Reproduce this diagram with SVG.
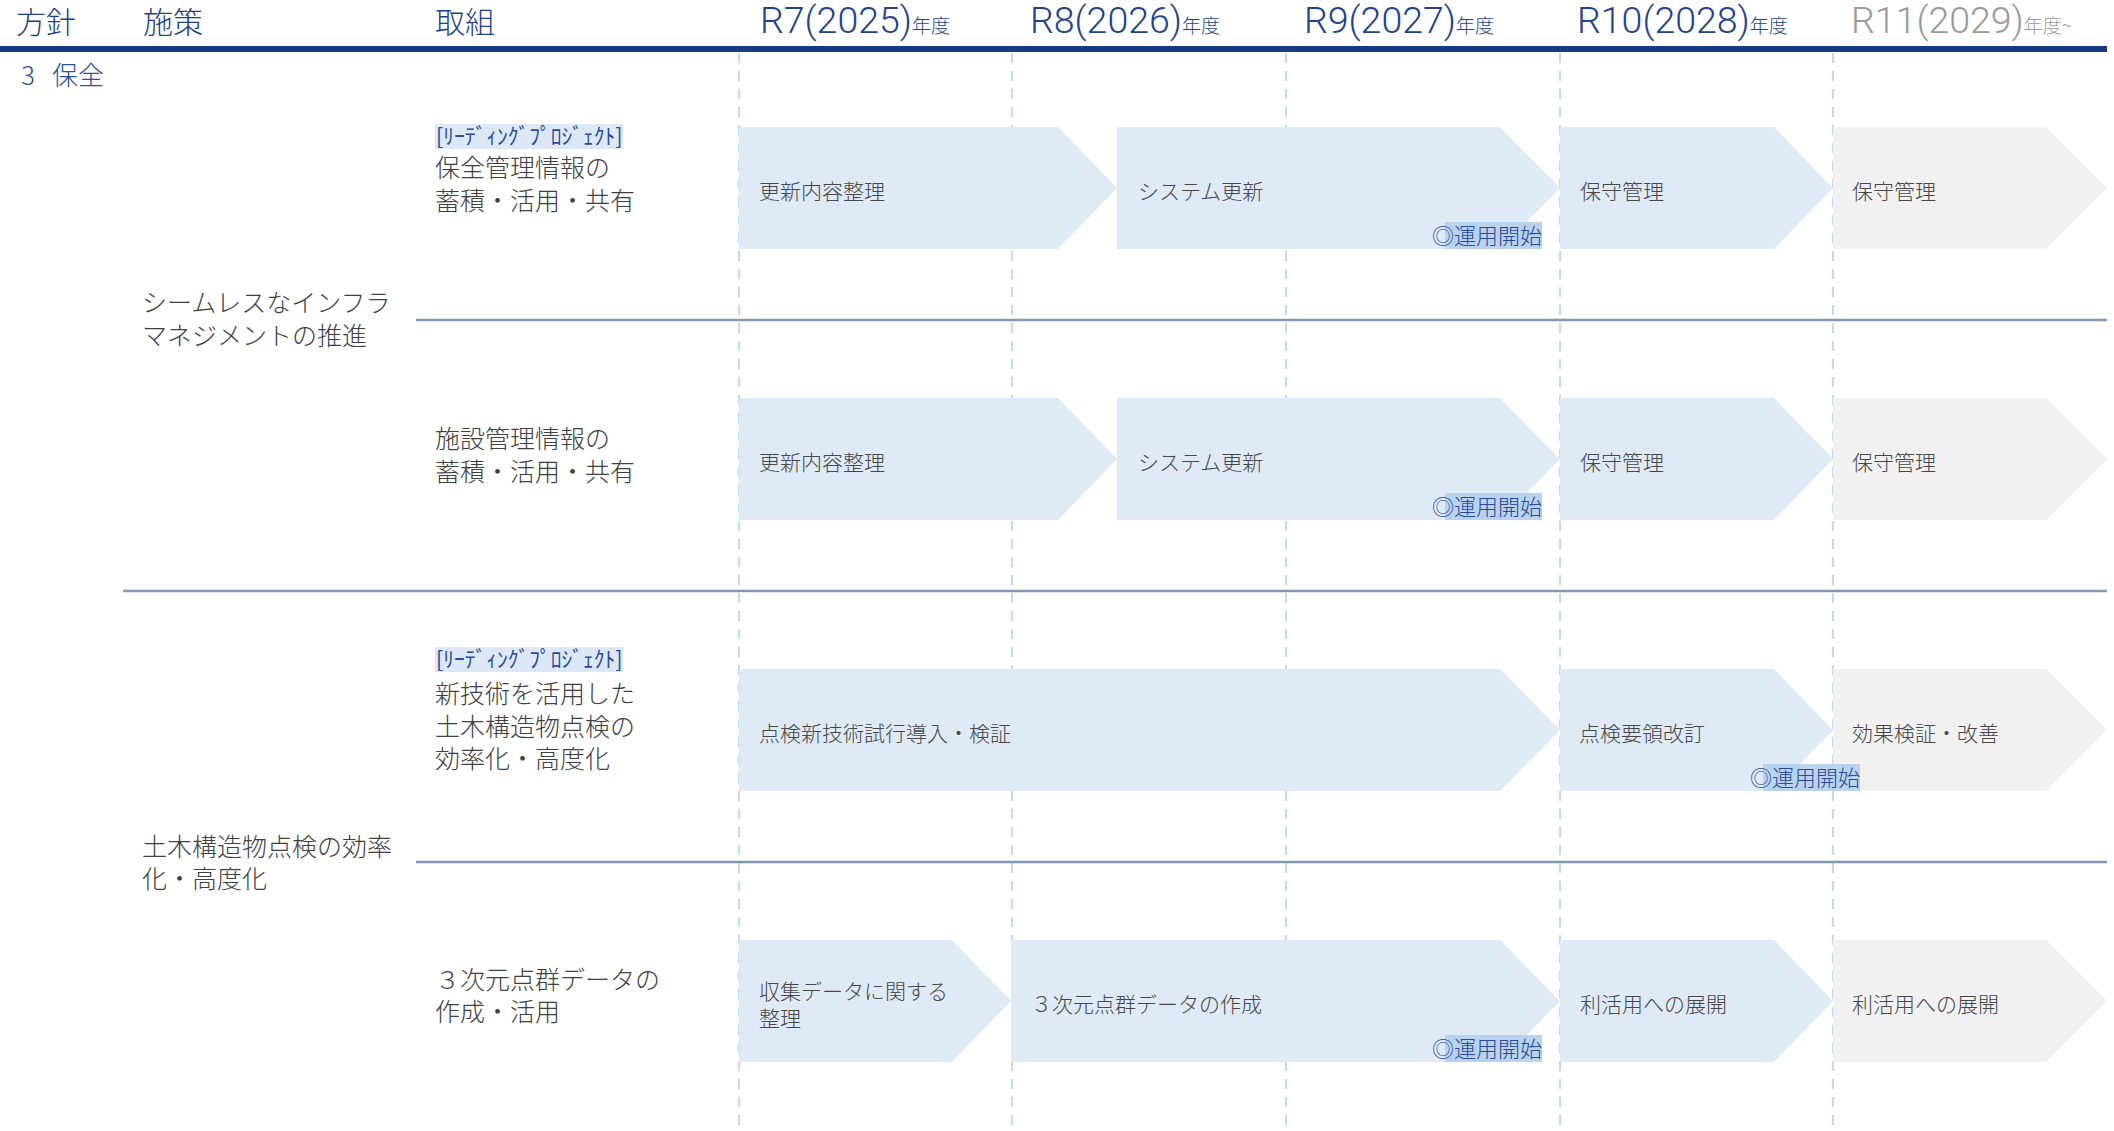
<svg xmlns="http://www.w3.org/2000/svg" width="2114" height="1131" viewBox="0 0 2114 1131">
<style>
.hd{font-family:"Noto Sans CJK JP","Noto Sans",sans-serif;font-size:30px;font-weight:300;fill:#1f3f88}
.yr{font-family:Roboto,"Liberation Sans",Arial,sans-serif;font-size:37.5px;font-weight:300;fill:#22438c}
.yr .nd{font-family:"Noto Sans CJK JP",sans-serif;font-size:19px;font-weight:300}
.gray{fill:#9a9a9a}
.pol{font-family:"Noto Sans CJK JP",sans-serif;font-size:26px;font-weight:300;fill:#2b4f98}
.lt{font-family:"Noto Sans CJK JP",sans-serif;font-size:25px;font-weight:300;fill:#404040}
.tag{font-family:"Noto Sans CJK JP",sans-serif;font-size:21.5px;fill:#2b4a98}
.tagbg{fill:#dce8f5}
.cb{fill:#deeaf6}
.cg{fill:#f1f1f1}
.ct{font-family:"Noto Sans CJK JP",sans-serif;font-size:21px;font-weight:300;fill:#474747}
.op{font-family:"Noto Sans CJK JP",sans-serif;font-size:22px;font-weight:300;fill:#2a4a96}
.opbg{fill:#b9d3ee}
.grid{stroke:#a9cbe9;stroke-width:1.4;stroke-dasharray:10 8;fill:none}
.sep{stroke:#8597b3;stroke-width:2.5}
</style>

<g id="grid">
<line class="grid" x1="739" y1="53" x2="739" y2="1131"/>
<line class="grid" x1="1012" y1="53" x2="1012" y2="1131"/>
<line class="grid" x1="1286" y1="53" x2="1286" y2="1131"/>
<line class="grid" x1="1560" y1="53" x2="1560" y2="1131"/>
<line class="grid" x1="1833" y1="53" x2="1833" y2="1131"/>
<line class="sep" x1="416" y1="320" x2="2107" y2="320"/>
<line class="sep" x1="123" y1="591" x2="2107" y2="591"/>
<line class="sep" x1="416" y1="862" x2="2107" y2="862"/>
</g>

<g id="header">
<rect x="0" y="46" width="2107" height="6" fill="#183a80"/>
<text class="hd" x="16" y="33">方針</text>
<text class="hd" x="143" y="33">施策</text>
<text class="hd" x="435" y="33">取組</text>
<text class="yr" x="760" y="33">R7(2025)<tspan class="nd">年度</tspan></text>
<text class="yr" x="1030" y="33">R8(2026)<tspan class="nd">年度</tspan></text>
<text class="yr" x="1304" y="33">R9(2027)<tspan class="nd">年度</tspan></text>
<text class="yr" x="1577" y="33">R10(2028)<tspan class="nd">年度</tspan></text>
<text class="yr gray" x="1851" y="33">R11(2029)<tspan class="nd">年度~</tspan></text>
</g>

<g id="policy">
<text class="pol" x="21" y="85">3<tspan x="52">保全</tspan></text>
</g>

<g id="measure-1">
<text class="lt" x="142" y="312">シームレスなインフラ</text>
<text class="lt" x="142" y="345">マネジメントの推進</text>
</g>
<g id="measure-2">
<text class="lt" x="142" y="856">土木構造物点検の効率</text>
<text class="lt" x="142" y="888">化・高度化</text>
</g>

<g id="item-1">
<rect class="tagbg" x="435" y="124" width="188" height="25"/>
<text class="tag" x="436" y="144">[ﾘｰﾃﾞｨﾝｸﾞﾌﾟﾛｼﾞｪｸﾄ]</text>
<text class="lt" x="435" y="177">保全管理情報の</text>
<text class="lt" x="435" y="210">蓄積・活用・共有</text>
</g>
<g id="item-2">
<text class="lt" x="435" y="448">施設管理情報の</text>
<text class="lt" x="435" y="481">蓄積・活用・共有</text>
</g>
<g id="item-3">
<rect class="tagbg" x="435" y="647" width="188" height="25"/>
<text class="tag" x="436" y="667">[ﾘｰﾃﾞｨﾝｸﾞﾌﾟﾛｼﾞｪｸﾄ]</text>
<text class="lt" x="435" y="703">新技術を活用した</text>
<text class="lt" x="435" y="736">土木構造物点検の</text>
<text class="lt" x="435" y="768">効率化・高度化</text>
</g>
<g id="item-4">
<text class="lt" x="435" y="989">３次元点群データの</text>
<text class="lt" x="435" y="1021">作成・活用</text>
</g>

<!-- Row 1 -->
<g id="r1-a"><path class="cb" d="M739,127 H1058 L1117,188 L1058,249 H739 Z"/><text class="ct" x="759" y="199">更新内容整理</text></g>
<g id="r1-b"><path class="cb" d="M1117,127 H1500 L1560,188 L1500,249 H1117 Z"/><text class="ct" x="1138" y="199">システム更新</text></g>
<g id="r1-c"><path class="cb" d="M1560,127 H1774 L1833,188 L1774,249 H1560 Z"/><text class="ct" x="1580" y="199">保守管理</text></g>
<g id="r1-d"><path class="cg" d="M1833,127 H2046 L2107,188 L2046,249 H1833 Z"/><text class="ct" x="1852" y="199">保守管理</text></g>
<g id="r1-op"><rect class="opbg" x="1445" y="222" width="97" height="27"/><text class="op" x="1432" y="244">◎運用開始</text></g>

<!-- Row 2 -->
<g id="r2-a"><path class="cb" d="M739,398 H1058 L1117,459 L1058,520 H739 Z"/><text class="ct" x="759" y="470">更新内容整理</text></g>
<g id="r2-b"><path class="cb" d="M1117,398 H1500 L1560,459 L1500,520 H1117 Z"/><text class="ct" x="1138" y="470">システム更新</text></g>
<g id="r2-c"><path class="cb" d="M1560,398 H1774 L1833,459 L1774,520 H1560 Z"/><text class="ct" x="1580" y="470">保守管理</text></g>
<g id="r2-d"><path class="cg" d="M1833,398 H2046 L2107,459 L2046,520 H1833 Z"/><text class="ct" x="1852" y="470">保守管理</text></g>
<g id="r2-op"><rect class="opbg" x="1445" y="493" width="97" height="27"/><text class="op" x="1432" y="515">◎運用開始</text></g>

<!-- Row 3 -->
<g id="r3-a"><path class="cb" d="M739,669 H1500 L1560,730 L1500,791 H739 Z"/><text class="ct" x="759" y="741">点検新技術試行導入・検証</text></g>
<g id="r3-b"><path class="cb" d="M1560,669 H1774 L1833,730 L1774,791 H1560 Z"/><text class="ct" x="1579" y="741">点検要領改訂</text></g>
<g id="r3-c"><path class="cg" d="M1833,669 H2046 L2107,730 L2046,791 H1833 Z"/><text class="ct" x="1852" y="741">効果検証・改善</text></g>
<g id="r3-op"><rect class="opbg" x="1763" y="764" width="97" height="27"/><text class="op" x="1750" y="786">◎運用開始</text></g>

<!-- Row 4 -->
<g id="r4-a"><path class="cb" d="M739,940 H952 L1011,1001 L952,1062 H739 Z"/><text class="ct" x="759" y="999">収集データに関する</text><text class="ct" x="759" y="1026">整理</text></g>
<g id="r4-b"><path class="cb" d="M1011,940 H1500 L1560,1001 L1500,1062 H1011 Z"/><text class="ct" x="1031" y="1012">３次元点群データの作成</text></g>
<g id="r4-c"><path class="cb" d="M1560,940 H1774 L1833,1001 L1774,1062 H1560 Z"/><text class="ct" x="1580" y="1012">利活用への展開</text></g>
<g id="r4-d"><path class="cg" d="M1833,940 H2046 L2107,1001 L2046,1062 H1833 Z"/><text class="ct" x="1852" y="1012">利活用への展開</text></g>
<g id="r4-op"><rect class="opbg" x="1445" y="1035" width="97" height="27"/><text class="op" x="1432" y="1057">◎運用開始</text></g>

<g id="connectors"></g>
</svg>
